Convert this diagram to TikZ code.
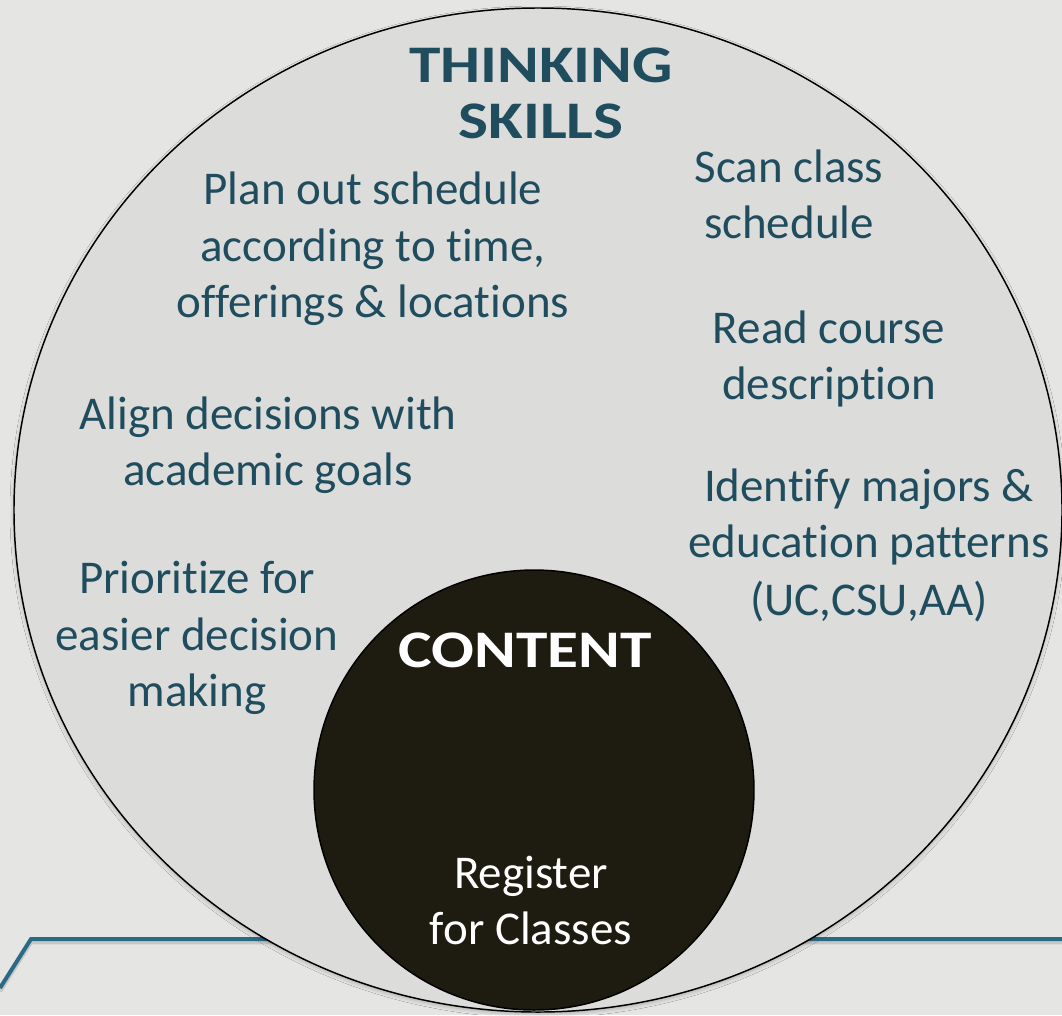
\documentclass[tikz,border=0pt]{standalone}
\usepackage{fontspec}
\setmainfont[Ligatures=NoCommon]{Carlito}
\newfontfamily\headfont[FakeStretch=1.2,Ligatures=NoCommon]{Carlito}
\usetikzlibrary{shadows.blur}
\definecolor{bg}{HTML}{E5E5E3}
\definecolor{disc}{HTML}{DCDCDB}
\definecolor{ink}{RGB}{31,77,94}
\definecolor{core}{RGB}{30,27,17}
\definecolor{rule}{RGB}{43,106,135}
\tikzset{
  txt/.style={anchor=base, text=ink, inner sep=0pt, font=\fontsize{35.25}{42}\selectfont},
  wtxt/.style={anchor=base, text=white, inner sep=0pt, font=\fontsize{35.25}{42}\selectfont},
  head/.style={anchor=base, text=ink, inner sep=0pt, font=\headfont\bfseries\fontsize{39.6}{46}\selectfont},
  whead/.style={anchor=base, text=white, inner sep=0pt, font=\headfont\bfseries\fontsize{39.6}{46}\selectfont},
  ruleline/.style={draw=rule, line width=3pt},
  ruleshadow/.style={draw=black!22, line width=3pt},
  outer/.style={fill=disc, draw=black, line width=1.1pt, blur shadow={shadow xshift=0pt, shadow yshift=-1.5pt, shadow blur radius=3pt, shadow opacity=25}},
  inner/.style={fill=core, draw=black, line width=1.1pt}
}
\begin{document}
\begin{tikzpicture}[x=0.75pt,y=-0.75pt]
\fill[bg] (0,0) rectangle (1062,1015);
\useasboundingbox (0,0) rectangle (1062,1015);
% blue rule behind the disc
\coordinate (r0) at (0,988);
\coordinate (r1) at (31,939);
\coordinate (r2) at (1062,939);
\draw[ruleshadow] ([yshift=-2.5pt]r0) -- ([yshift=-2.5pt]r1) -- ([yshift=-2.5pt]r2);
\draw[ruleline] (r0) -- (r1) -- (r2);
% discs
\path[outer] (538,510) ellipse [x radius=524, y radius=502];
\node[coordinate] (skills) at (538,510) {};
\path[inner] (534,790) circle [radius=220];
\node[coordinate] (content) at (534,790) {};
% heading
\node[head] (h1) at (541,82) {THINKING};
\node[head] (h2) at (541,138) {SKILLS};
% left texts
\node[txt] (p1) at (373,204) {Plan out schedule};
\node[txt] (p2) at (373,261) {according to time,};
\node[txt] (p3) at (373,317) {offerings \& locations};
\node[txt] (a1) at (268,429) {Align decisions with};
\node[txt] (a2) at (268,485) {academic goals};
\node[txt] (q1) at (197,593) {Prioritize for};
\node[txt] (q2) at (197,650) {easier decision};
\node[txt] (q3) at (197,706) {making};
% right texts
\node[txt] (s1) at (789,182) {Scan class};
\node[txt] (s2) at (789,238) {schedule};
\node[txt] (d1) at (829,343) {Read course};
\node[txt] (d2) at (829,399) {description};
\node[txt] (m1) at (869,501) {Identify majors \&};
\node[txt] (m2) at (869,557) {education patterns};
\node[txt] (m3) at (869,615) {(UC,CSU,AA)};
% content
\node[whead] (c1) at (525,667) {CONTENT};
\node[wtxt] (c2) at (531,888) {Register};
\node[wtxt] (c3) at (531,944) {for Classes};
\end{tikzpicture}
\end{document}
